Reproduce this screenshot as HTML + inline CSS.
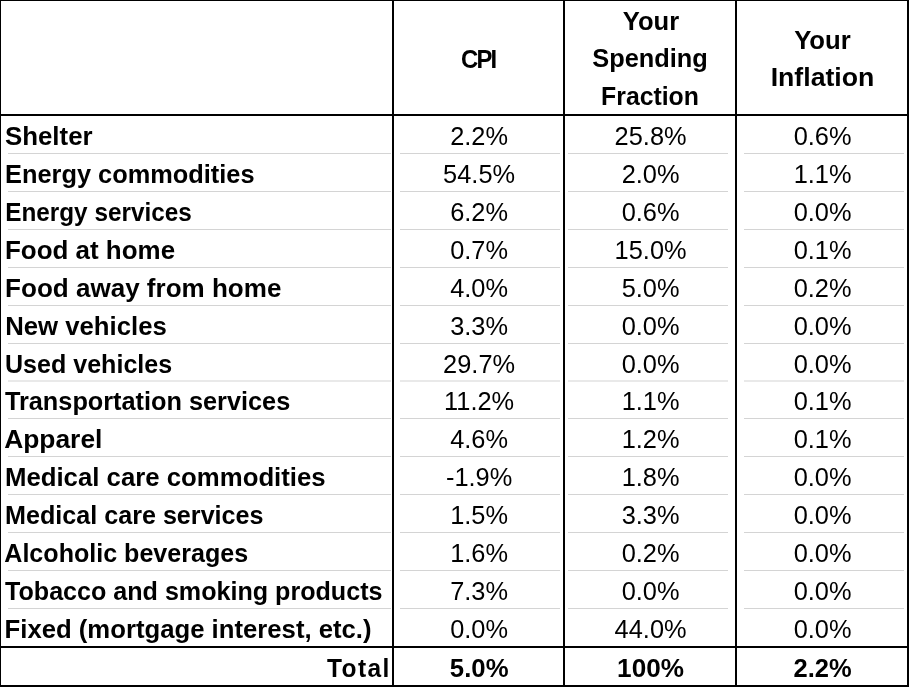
<!DOCTYPE html><html><head><meta charset="utf-8"><style>
#L{position:absolute;left:0;top:0;width:910px;height:688px;will-change:transform;}
html,body{margin:0;padding:0;background:#fff;}
body{width:910px;height:688px;position:relative;overflow:hidden;}
.k{position:absolute;background:#000;}
.g{position:absolute;background:#d4d4d4;height:1px;}
.t{position:absolute;font-family:"Liberation Sans",sans-serif;font-size:25px;line-height:28px;height:28px;white-space:nowrap;color:#000;}
.b{font-weight:bold;}
</style></head><body><div id="L">

<div class="g" style="left:8px;top:153px;width:383px"></div>
<div class="g" style="left:400px;top:153px;width:160px"></div>
<div class="g" style="left:568px;top:153px;width:160px"></div>
<div class="g" style="left:744px;top:153px;width:160px"></div>
<div class="g" style="left:8px;top:191px;width:383px"></div>
<div class="g" style="left:400px;top:191px;width:160px"></div>
<div class="g" style="left:568px;top:191px;width:160px"></div>
<div class="g" style="left:744px;top:191px;width:160px"></div>
<div class="g" style="left:8px;top:229px;width:383px"></div>
<div class="g" style="left:400px;top:229px;width:160px"></div>
<div class="g" style="left:568px;top:229px;width:160px"></div>
<div class="g" style="left:744px;top:229px;width:160px"></div>
<div class="g" style="left:8px;top:267px;width:383px"></div>
<div class="g" style="left:400px;top:267px;width:160px"></div>
<div class="g" style="left:568px;top:267px;width:160px"></div>
<div class="g" style="left:744px;top:267px;width:160px"></div>
<div class="g" style="left:8px;top:305px;width:383px"></div>
<div class="g" style="left:400px;top:305px;width:160px"></div>
<div class="g" style="left:568px;top:305px;width:160px"></div>
<div class="g" style="left:744px;top:305px;width:160px"></div>
<div class="g" style="left:8px;top:343px;width:383px"></div>
<div class="g" style="left:400px;top:343px;width:160px"></div>
<div class="g" style="left:568px;top:343px;width:160px"></div>
<div class="g" style="left:744px;top:343px;width:160px"></div>
<div class="g" style="left:8px;top:380px;width:383px;height:2px;background:#e9e9e9"></div>
<div class="g" style="left:400px;top:380px;width:160px;height:2px;background:#e9e9e9"></div>
<div class="g" style="left:568px;top:380px;width:160px;height:2px;background:#e9e9e9"></div>
<div class="g" style="left:744px;top:380px;width:160px;height:2px;background:#e9e9e9"></div>
<div class="g" style="left:8px;top:418px;width:383px"></div>
<div class="g" style="left:400px;top:418px;width:160px"></div>
<div class="g" style="left:568px;top:418px;width:160px"></div>
<div class="g" style="left:744px;top:418px;width:160px"></div>
<div class="g" style="left:8px;top:456px;width:383px"></div>
<div class="g" style="left:400px;top:456px;width:160px"></div>
<div class="g" style="left:568px;top:456px;width:160px"></div>
<div class="g" style="left:744px;top:456px;width:160px"></div>
<div class="g" style="left:8px;top:494px;width:383px"></div>
<div class="g" style="left:400px;top:494px;width:160px"></div>
<div class="g" style="left:568px;top:494px;width:160px"></div>
<div class="g" style="left:744px;top:494px;width:160px"></div>
<div class="g" style="left:8px;top:532px;width:383px"></div>
<div class="g" style="left:400px;top:532px;width:160px"></div>
<div class="g" style="left:568px;top:532px;width:160px"></div>
<div class="g" style="left:744px;top:532px;width:160px"></div>
<div class="g" style="left:8px;top:570px;width:383px"></div>
<div class="g" style="left:400px;top:570px;width:160px"></div>
<div class="g" style="left:568px;top:570px;width:160px"></div>
<div class="g" style="left:744px;top:570px;width:160px"></div>
<div class="g" style="left:8px;top:608px;width:383px"></div>
<div class="g" style="left:400px;top:608px;width:160px"></div>
<div class="g" style="left:568px;top:608px;width:160px"></div>
<div class="g" style="left:744px;top:608px;width:160px"></div>
<div class="k" style="left:0;top:0;width:909px;height:1px"></div>
<div class="k" style="left:0;top:0;width:1px;height:687px"></div>
<div class="k" style="left:392px;top:0;width:2px;height:687px"></div>
<div class="k" style="left:563px;top:0;width:2px;height:687px"></div>
<div class="k" style="left:735px;top:0;width:2px;height:687px"></div>
<div class="k" style="left:907px;top:0;width:2px;height:687px"></div>
<div class="k" style="left:0;top:114px;width:909px;height:2px"></div>
<div class="k" style="left:0;top:646px;width:909px;height:2px"></div>
<div class="k" style="left:0;top:685px;width:909px;height:2px"></div>
<div class="t b" style="left:394px;width:169px;top:45.00px;text-align:center;letter-spacing:-2px;transform-origin:68px 0;transform:translateX(0.40px) scaleX(0.9543);">CPI</div>
<div class="t b" style="left:565px;width:170px;top:7.00px;text-align:center;letter-spacing:0px;transform-origin:58px 0;transform:translateX(0.40px) scaleX(1.0222);">Your</div>
<div class="t b" style="left:565px;width:170px;top:44.00px;text-align:center;letter-spacing:0px;transform-origin:29px 0;transform:translateX(-0.70px) scaleX(1.0144);">Spending</div>
<div class="t b" style="left:565px;width:170px;top:82.00px;text-align:center;letter-spacing:0px;transform-origin:37px 0;transform:translateX(0.40px) scaleX(0.9917);">Fraction</div>
<div class="t b" style="left:737px;width:170px;top:26.00px;text-align:center;letter-spacing:0px;transform-origin:58px 0;transform:translateX(-0.30px) scaleX(1.0278);">Your</div>
<div class="t b" style="left:737px;width:170px;top:63.00px;text-align:center;letter-spacing:0px;transform-origin:38px 0;transform:translateX(-2.60px) scaleX(1.0660);">Inflation</div>
<div class="t b" style="left:6px;width:380px;top:122.00px;text-align:left;letter-spacing:0px;transform-origin:1px 0;transform:translateX(-1.00px) scaleX(1.0337);">Shelter</div>
<div class="t" style="left:394px;width:169px;top:122.00px;text-align:center;letter-spacing:0px;transform:translateX(0.6px) scaleX(1.015);">2.2%</div>
<div class="t" style="left:565px;width:170px;top:122.00px;text-align:center;letter-spacing:0px;transform:translateX(0.6px) scaleX(1.015);">25.8%</div>
<div class="t" style="left:737px;width:170px;top:122.00px;text-align:center;letter-spacing:0px;transform:translateX(0.6px) scaleX(1.015);">0.6%</div>
<div class="t b" style="left:6px;width:380px;top:160.00px;text-align:left;letter-spacing:0px;transform-origin:2px 0;transform:translateX(-0.90px) scaleX(1.0144);">Energy commodities</div>
<div class="t" style="left:394px;width:169px;top:160.00px;text-align:center;letter-spacing:0px;transform:translateX(0.6px) scaleX(1.015);">54.5%</div>
<div class="t" style="left:565px;width:170px;top:160.00px;text-align:center;letter-spacing:0px;transform:translateX(0.6px) scaleX(1.015);">2.0%</div>
<div class="t" style="left:737px;width:170px;top:160.00px;text-align:center;letter-spacing:0px;transform:translateX(0.6px) scaleX(1.015);">1.1%</div>
<div class="t b" style="left:6px;width:380px;top:198.00px;text-align:left;letter-spacing:0px;transform-origin:2px 0;transform:translateX(-0.90px) scaleX(0.9730);">Energy services</div>
<div class="t" style="left:394px;width:169px;top:198.00px;text-align:center;letter-spacing:0px;transform:translateX(0.6px) scaleX(1.015);">6.2%</div>
<div class="t" style="left:565px;width:170px;top:198.00px;text-align:center;letter-spacing:0px;transform:translateX(0.6px) scaleX(1.015);">0.6%</div>
<div class="t" style="left:737px;width:170px;top:198.00px;text-align:center;letter-spacing:0px;transform:translateX(0.6px) scaleX(1.015);">0.0%</div>
<div class="t b" style="left:6px;width:380px;top:236.00px;text-align:left;letter-spacing:0px;transform-origin:2px 0;transform:translateX(-1.00px) scaleX(1.0385);">Food at home</div>
<div class="t" style="left:394px;width:169px;top:236.00px;text-align:center;letter-spacing:0px;transform:translateX(0.6px) scaleX(1.015);">0.7%</div>
<div class="t" style="left:565px;width:170px;top:236.00px;text-align:center;letter-spacing:0px;transform:translateX(0.6px) scaleX(1.015);">15.0%</div>
<div class="t" style="left:737px;width:170px;top:236.00px;text-align:center;letter-spacing:0px;transform:translateX(0.6px) scaleX(1.015);">0.1%</div>
<div class="t b" style="left:6px;width:380px;top:274.00px;text-align:left;letter-spacing:0px;transform-origin:2px 0;transform:translateX(-0.80px) scaleX(1.0412);">Food away from home</div>
<div class="t" style="left:394px;width:169px;top:274.00px;text-align:center;letter-spacing:0px;transform:translateX(0.6px) scaleX(1.015);">4.0%</div>
<div class="t" style="left:565px;width:170px;top:274.00px;text-align:center;letter-spacing:0px;transform:translateX(0.6px) scaleX(1.015);">5.0%</div>
<div class="t" style="left:737px;width:170px;top:274.00px;text-align:center;letter-spacing:0px;transform:translateX(0.6px) scaleX(1.015);">0.2%</div>
<div class="t b" style="left:6px;width:380px;top:312.00px;text-align:left;letter-spacing:0px;transform-origin:2px 0;transform:translateX(-0.80px) scaleX(1.0292);">New vehicles</div>
<div class="t" style="left:394px;width:169px;top:312.00px;text-align:center;letter-spacing:0px;transform:translateX(0.6px) scaleX(1.015);">3.3%</div>
<div class="t" style="left:565px;width:170px;top:312.00px;text-align:center;letter-spacing:0px;transform:translateX(0.6px) scaleX(1.015);">0.0%</div>
<div class="t" style="left:737px;width:170px;top:312.00px;text-align:center;letter-spacing:0px;transform:translateX(0.6px) scaleX(1.015);">0.0%</div>
<div class="t b" style="left:6px;width:380px;top:350.00px;text-align:left;letter-spacing:0px;transform-origin:2px 0;transform:translateX(-1.00px) scaleX(1.0024);">Used vehicles</div>
<div class="t" style="left:394px;width:169px;top:350.00px;text-align:center;letter-spacing:0px;transform:translateX(0.6px) scaleX(1.015);">29.7%</div>
<div class="t" style="left:565px;width:170px;top:350.00px;text-align:center;letter-spacing:0px;transform:translateX(0.6px) scaleX(1.015);">0.0%</div>
<div class="t" style="left:737px;width:170px;top:350.00px;text-align:center;letter-spacing:0px;transform:translateX(0.6px) scaleX(1.015);">0.0%</div>
<div class="t b" style="left:6px;width:380px;top:387.00px;text-align:left;letter-spacing:0px;transform-origin:0px 0;transform:translateX(-1.10px) scaleX(1.0117);">Transportation services</div>
<div class="t" style="left:394px;width:169px;top:387.00px;text-align:center;letter-spacing:0px;transform:translateX(0.6px) scaleX(1.015);">11.2%</div>
<div class="t" style="left:565px;width:170px;top:387.00px;text-align:center;letter-spacing:0px;transform:translateX(0.6px) scaleX(1.015);">1.1%</div>
<div class="t" style="left:737px;width:170px;top:387.00px;text-align:center;letter-spacing:0px;transform:translateX(0.6px) scaleX(1.015);">0.1%</div>
<div class="t b" style="left:6px;width:380px;top:425.00px;text-align:left;letter-spacing:0px;transform-origin:1px 0;transform:translateX(-1.80px) scaleX(1.0556);">Apparel</div>
<div class="t" style="left:394px;width:169px;top:425.00px;text-align:center;letter-spacing:0px;transform:translateX(0.6px) scaleX(1.015);">4.6%</div>
<div class="t" style="left:565px;width:170px;top:425.00px;text-align:center;letter-spacing:0px;transform:translateX(0.6px) scaleX(1.015);">1.2%</div>
<div class="t" style="left:737px;width:170px;top:425.00px;text-align:center;letter-spacing:0px;transform:translateX(0.6px) scaleX(1.015);">0.1%</div>
<div class="t b" style="left:6px;width:380px;top:463.00px;text-align:left;letter-spacing:0px;transform-origin:2px 0;transform:translateX(-1.00px) scaleX(1.0305);">Medical care commodities</div>
<div class="t" style="left:394px;width:169px;top:463.00px;text-align:center;letter-spacing:0px;transform:translateX(0.6px) scaleX(1.015);">-1.9%</div>
<div class="t" style="left:565px;width:170px;top:463.00px;text-align:center;letter-spacing:0px;transform:translateX(0.6px) scaleX(1.015);">1.8%</div>
<div class="t" style="left:737px;width:170px;top:463.00px;text-align:center;letter-spacing:0px;transform:translateX(0.6px) scaleX(1.015);">0.0%</div>
<div class="t b" style="left:6px;width:380px;top:501.00px;text-align:left;letter-spacing:0px;transform-origin:2px 0;transform:translateX(-1.00px) scaleX(1.0055);">Medical care services</div>
<div class="t" style="left:394px;width:169px;top:501.00px;text-align:center;letter-spacing:0px;transform:translateX(0.6px) scaleX(1.015);">1.5%</div>
<div class="t" style="left:565px;width:170px;top:501.00px;text-align:center;letter-spacing:0px;transform:translateX(0.6px) scaleX(1.015);">3.3%</div>
<div class="t" style="left:737px;width:170px;top:501.00px;text-align:center;letter-spacing:0px;transform:translateX(0.6px) scaleX(1.015);">0.0%</div>
<div class="t b" style="left:6px;width:380px;top:539.00px;text-align:left;letter-spacing:0px;transform-origin:1px 0;transform:translateX(-1.70px) scaleX(1.0029);">Alcoholic beverages</div>
<div class="t" style="left:394px;width:169px;top:539.00px;text-align:center;letter-spacing:0px;transform:translateX(0.6px) scaleX(1.015);">1.6%</div>
<div class="t" style="left:565px;width:170px;top:539.00px;text-align:center;letter-spacing:0px;transform:translateX(0.6px) scaleX(1.015);">0.2%</div>
<div class="t" style="left:737px;width:170px;top:539.00px;text-align:center;letter-spacing:0px;transform:translateX(0.6px) scaleX(1.015);">0.0%</div>
<div class="t b" style="left:6px;width:380px;top:577.00px;text-align:left;letter-spacing:0px;transform-origin:0px 0;transform:translateX(-1.00px) scaleX(1.0040);">Tobacco and smoking products</div>
<div class="t" style="left:394px;width:169px;top:577.00px;text-align:center;letter-spacing:0px;transform:translateX(0.6px) scaleX(1.015);">7.3%</div>
<div class="t" style="left:565px;width:170px;top:577.00px;text-align:center;letter-spacing:0px;transform:translateX(0.6px) scaleX(1.015);">0.0%</div>
<div class="t" style="left:737px;width:170px;top:577.00px;text-align:center;letter-spacing:0px;transform:translateX(0.6px) scaleX(1.015);">0.0%</div>
<div class="t b" style="left:6px;width:380px;top:615.00px;text-align:left;letter-spacing:0px;transform-origin:2px 0;transform:translateX(-1.40px) scaleX(1.0280);">Fixed (mortgage interest, etc.)</div>
<div class="t" style="left:394px;width:169px;top:615.00px;text-align:center;letter-spacing:0px;transform:translateX(0.6px) scaleX(1.015);">0.0%</div>
<div class="t" style="left:565px;width:170px;top:615.00px;text-align:center;letter-spacing:0px;transform:translateX(0.6px) scaleX(1.015);">44.0%</div>
<div class="t" style="left:737px;width:170px;top:615.00px;text-align:center;letter-spacing:0px;transform:translateX(0.6px) scaleX(1.015);">0.0%</div>
<div class="t b" style="left:0px;width:388px;top:654.00px;text-align:right;letter-spacing:1.4px;transform-origin:324px 0;transform:translateX(3.90px) scaleX(0.9803);">Total</div>
<div class="t b" style="left:394px;width:169px;top:654.00px;text-align:center;letter-spacing:0px;transform-origin:57px 0;transform:translateX(-0.10px) scaleX(1.0291);">5.0%</div>
<div class="t b" style="left:565px;width:170px;top:654.00px;text-align:center;letter-spacing:0px;transform-origin:55px 0;transform:translateX(-0.80px) scaleX(1.0459);">100%</div>
<div class="t b" style="left:737px;width:170px;top:654.00px;text-align:center;letter-spacing:0px;transform-origin:57px 0;transform:translateX(0.00px) scaleX(1.0196);">2.2%</div>
</div></body></html>
